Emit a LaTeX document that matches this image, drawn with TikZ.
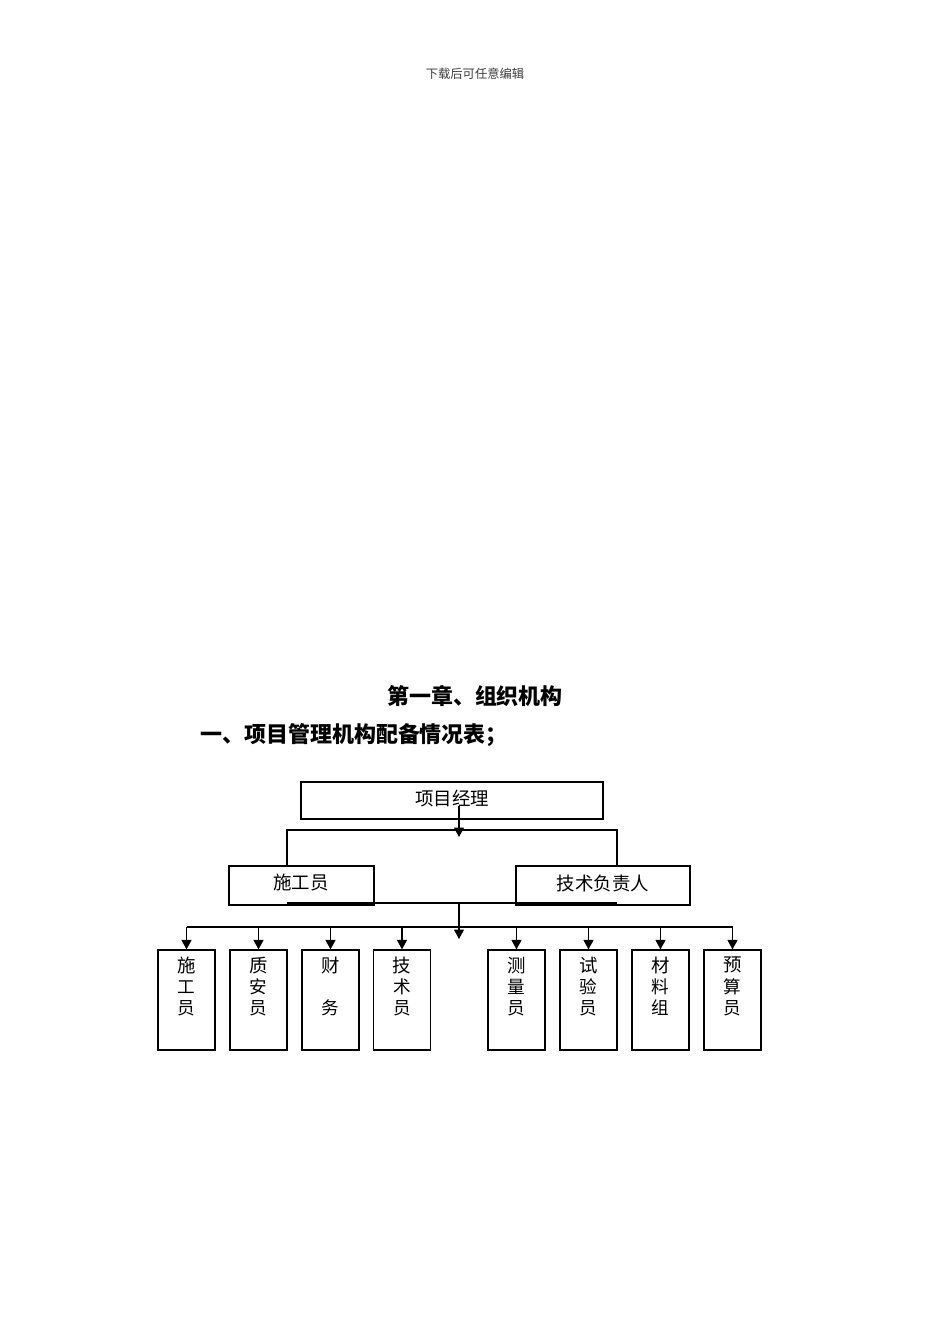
\documentclass[tikz,border=0pt]{standalone}
\usepackage{fontspec}
\setmainfont{Noto Sans CJK SC}
\usetikzlibrary{arrows.meta}
\definecolor{orgline}{RGB}{0,0,0}
\definecolor{headgray}{RGB}{60,60,60}
\newcommand{\orgfont}{\fontsize{10.5pt}{11.2pt}\selectfont}
\newcommand{\titlefont}{\fontsize{12.5pt}{14pt}\selectfont\bfseries}

\begin{document}
\begin{tikzpicture}[x=0.02cm,y=-0.02cm,
  orgbox/.style={draw=orgline,fill=white,line width=0.7pt,inner sep=0pt},
  orgarrow/.style={-{Triangle[width=0.2cm,length=0.19cm]},line width=0.7pt,draw=orgline},
  orglink/.style={line width=0.7pt,draw=orgline}]
\useasboundingbox (0,0) rectangle (950,1344);

\node (header) at (475,74) {\fontsize{7pt}{8pt}\selectfont\textcolor{headgray}{下载后可任意编辑}};
\node (chapter) at (475,696) {\titlefont 第一章、组织机构};
\node [anchor=west,inner sep=0pt] (section) at (200,735) {\titlefont 一、项目管理机构配备情况表；};

% bracket behind the two middle boxes
\coordinate (bl) at (287,830);
\coordinate (br) at (617,903);
\draw [orglink] (bl |- 866,866) -- (bl) -- (br |- bl) -- (br |- 866,866);

\node [orgbox,minimum width=6.04cm,minimum height=0.74cm] (manager) at (452,800.5) {};
\node (managertext) at (452,798) {\orgfont 项目经理};
\node [orgbox,minimum width=2.9cm,minimum height=0.78cm] (builder) at (301.5,885.5) {};
\node (buildertext) at (301,883) {\orgfont 施工员};
\node [orgbox,minimum width=3.48cm,minimum height=0.78cm] (techlead) at (603,885.5) {};
\node (techleadtext) at (603,883) {\orgfont 技术负责人};

\draw [orglink] (bl |- br) -- (br);

\coordinate (topstart) at (459,806);
\coordinate (toptip) at (459,837);
\draw [orgarrow] (topstart) -- (toptip);

\coordinate (midstart) at (459,903);
\coordinate (midtip) at (459,939);
\draw [orgarrow] (midstart) -- (midtip);

% staff boxes
\foreach \n/\x/\t in {1/186.5/{施\\工\\员},2/258.5/{质\\安\\员},3/330.5/{财\\\mbox{}\\务},4/402/{技\\术\\员},
                       5/516.5/{测\\量\\员},6/588.5/{试\\验\\员},7/660.5/{材\\料\\组},8/732.5/{预\\算\\员}}
{
  \node [orgbox,minimum width=1.14cm,minimum height=2cm] (staff\n) at (\x,1000) {};
  \node [anchor=north,align=center,inner sep=0pt,yshift=-0.15cm] (stafftext\n) at (staff\n.north) {\orgfont \t};
}

\coordinate (bus) at (459,927);
\draw [orglink] (staff1.north |- bus) -- (staff8.north |- bus);
\foreach \n in {1,...,8}
  \draw [orgarrow] (staff\n.north |- bus) -- (staff\n.north);

\end{tikzpicture}
\end{document}
